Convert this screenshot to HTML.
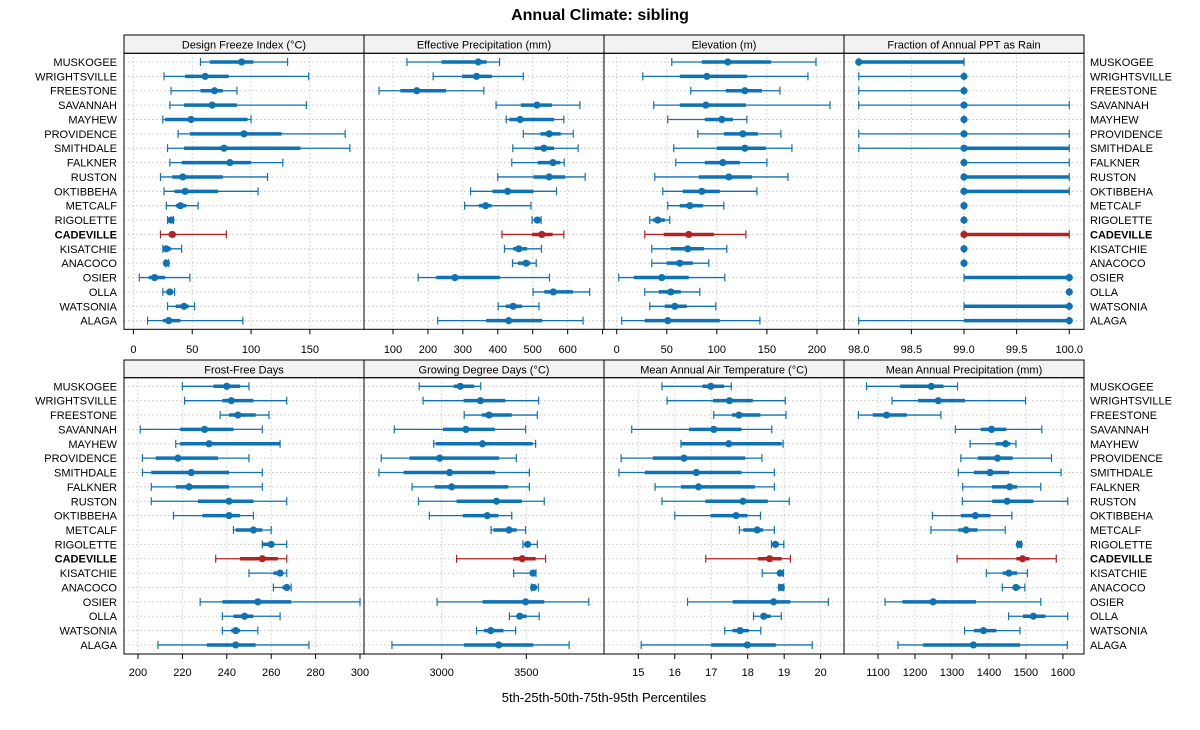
<!DOCTYPE html>
<html><head><meta charset="utf-8"><style>
body{margin:0;background:#fff;}
svg text{font-family:"Liberation Sans",sans-serif;}
</style></head><body>
<svg id="chart" width="1200" height="725" xmlns="http://www.w3.org/2000/svg">
<text x="600" y="20" text-anchor="middle" font-size="16" font-weight="bold">Annual Climate: sibling</text>
<text x="604" y="702" text-anchor="middle" font-size="13">5th-25th-50th-75th-95th Percentiles</text>
</svg>
<script>
const sites = ["MUSKOGEE","WRIGHTSVILLE","FREESTONE","SAVANNAH","MAYHEW","PROVIDENCE","SMITHDALE","FALKNER","RUSTON","OKTIBBEHA","METCALF","RIGOLETTE","CADEVILLE","KISATCHIE","ANACOCO","OSIER","OLLA","WATSONIA","ALAGA"];
const highlight = "CADEVILLE";
const panelTitles = ["Design Freeze Index (°C)","Effective Precipitation (mm)","Elevation (m)","Fraction of Annual PPT as Rain","Frost-Free Days","Growing Degree Days (°C)","Mean Annual Air Temperature (°C)","Mean Annual Precipitation (mm)"];
const freezeIndex = [[57,65,92,102,131],[26,44,61,81,149],[32,57,69,76,88],[31,43,67,88,147],[25,27,49,97,100],[38,48,94,126,180],[29,43,77,142,184],[31,41,82,100,127],[23,33,42,76,114],[26,35,44,72,106],[28,36,40,45,55],[29,30,32,34,34],[23,30,33,36,79],[25,26,28,32,41],[27,27,28,29,30],[5,13,18,27,48],[25,28,31,33,35],[29,36,43,47,52],[12,25,30,40,93]];
const effPrecip = [[140,239,344,368,405],[215,298,339,383,473],[60,121,168,252,360],[395,466,512,555,635],[424,433,464,561,589],[473,522,547,580,616],[443,505,532,561,630],[440,514,558,579,590],[400,502,547,593,650],[322,385,428,502,568],[305,346,365,382,495],[498,504,513,520,524],[412,498,526,557,589],[419,444,460,484,525],[442,458,481,493,510],[172,224,277,406,548],[501,533,559,615,663],[401,423,444,469,518],[228,367,431,527,644]];
const elevation = [[55,85,111,154,199],[26,63,90,130,191],[74,109,128,145,163],[37,63,89,129,213],[51,88,105,116,130],[81,107,126,141,164],[57,100,128,149,175],[59,88,106,123,150],[38,82,112,135,171],[46,66,85,103,140],[51,63,73,86,107],[33,36,41,48,53],[28,47,72,97,129],[35,54,71,87,110],[35,50,63,76,92],[2,17,45,72,108],[28,42,54,64,83],[33,48,58,70,99],[5,28,51,103,143]];
const rainFraction = [[98,98,98,99,99],[98,99,99,99,99],[98,99,99,99,99],[98,99,99,99,100],[99,99,99,99,99],[98,99,99,99,100],[98,99,99,100,100],[99,99,99,99,100],[99,99,99,100,100],[99,99,99,100,100],[99,99,99,99,99],[99,99,99,99,99],[99,99,99,100,100],[99,99,99,99,99],[99,99,99,99,99],[99,99,100,100,100],[100,100,100,100,100],[99,99,100,100,100],[98,99,100,100,100]];
const frostFree = [[220,234,240,246,250],[221,238,242,252,267],[237,241,245,253,259],[201,219,230,243,256],[217,219,232,264,264],[202,208,218,236,250],[202,206,224,241,256],[206,217,223,241,256],[206,227,241,252,267],[216,229,241,246,252],[243,244,252,256,260],[256,256,260,261,267],[235,246,256,263,267],[250,261,264,265,267],[261,265,267,268,269],[228,238,254,269,300],[238,243,248,252,264],[238,242,244,246,254],[209,231,244,253,277]];
const gdd = [[2867,3071,3110,3192,3231],[2890,3129,3229,3375,3573],[3133,3237,3280,3414,3565],[2720,3008,3143,3314,3496],[2953,2965,3241,3537,3555],[2643,2810,2988,3339,3441],[2629,2775,3047,3316,3518],[2825,2959,3059,3394,3518],[2863,3088,3324,3473,3606],[2927,3125,3269,3335,3414],[3292,3306,3398,3443,3496],[3480,3488,3508,3527,3565],[3088,3422,3476,3555,3614],[3425,3529,3539,3547,3557],[3529,3535,3543,3557,3571],[2973,3241,3496,3606,3869],[3400,3447,3461,3502,3576],[3206,3249,3290,3365,3437],[2706,3131,3337,3541,3753]];
const maat = [[15.65,16.76,16.99,17.35,17.55],[15.79,17.05,17.5,18.14,19.03],[17.07,17.57,17.76,18.35,19.05],[14.82,16.39,17.07,17.83,18.66],[16.17,16.19,17.48,18.93,18.97],[14.53,15.4,16.25,17.93,18.39],[14.47,15.18,16.59,17.83,18.73],[15.46,16.17,16.65,18.2,18.73],[15.65,16.84,17.87,18.55,19.14],[16.0,16.98,17.68,17.99,18.35],[17.77,17.88,18.26,18.42,18.73],[18.65,18.68,18.76,18.85,18.99],[16.85,18.28,18.6,18.93,19.17],[18.4,18.84,18.89,18.94,18.98],[18.85,18.88,18.92,18.96,18.99],[16.35,17.59,18.71,19.17,20.21],[18.16,18.35,18.44,18.63,18.92],[17.37,17.58,17.79,18.03,18.36],[15.08,17.0,17.99,18.77,19.77]];
const map = [[1069,1160,1244,1277,1315],[1138,1208,1263,1335,1499],[1047,1086,1123,1178,1270],[1309,1378,1407,1447,1543],[1349,1418,1445,1458,1473],[1324,1370,1423,1464,1569],[1317,1359,1403,1455,1595],[1329,1408,1456,1476,1540],[1328,1409,1449,1520,1613],[1247,1324,1363,1404,1462],[1243,1317,1338,1369,1444],[1477,1480,1482,1485,1488],[1314,1474,1491,1509,1582],[1393,1437,1454,1476,1504],[1436,1464,1473,1485,1497],[1119,1166,1249,1365,1540],[1453,1492,1520,1553,1613],[1334,1359,1385,1420,1484],[1154,1222,1358,1484,1612]];
const panelData = [freezeIndex, effPrecip, elevation, rainFraction, frostFree, gdd, maat, map];
const domains = [[-8,196],[17,704],[-12.7,227],[97.86,100.14],[193.7,301.8],[2541,3959],[14.06,20.64],[1008,1657]];
const ticks = [[0,50,100,150],[100,200,300,400,500,600,700],[0,50,100,150,200],[98,98.5,99,99.5,100],[200,220,240,260,280,300],[3000,3500],[15,16,17,18,19,20],[1100,1200,1300,1400,1500,1600]];
const tickLabels = [["0","50","100","150"],["100","200","300","400","500","600",""],["0","50","100","150","200"],["98.0","98.5","99.0","99.5","100.0"],["200","220","240","260","280","300"],["3000","3500"],["15","16","17","18","19","20"],["1100","1200","1300","1400","1500","1600"]];

const svg = document.getElementById('chart');
const NS = "http://www.w3.org/2000/svg";
function mk(tag, attrs, parent){const e=document.createElementNS(NS,tag);for(const k in attrs)e.setAttribute(k,attrs[k]);(parent||svg).appendChild(e);return e;}
const BLUE="#0f72b2", RED="#b22222";
const PX0=124, PW=240;
const rows=[{strip:35,top:53.3,bot:329.3,y0:62,tickY:349},{strip:360,top:377.7,bot:654,y0:386.3,tickY:672}];
const dy=14.37;

for(let r=0;r<2;r++){
  const R=rows[r];
  // site labels left/right
  sites.forEach((s,i)=>{
    const y=R.y0+i*dy;
    const t1=mk('text',{x:117,y:y+4,'text-anchor':'end','font-size':11,'font-weight':s===highlight?'bold':'normal'});
    t1.textContent=s;
    
    
    const t2=mk('text',{x:1090,y:y+4,'font-size':11,'font-weight':s===highlight?'bold':'normal'});
    t2.textContent=s;
    
    
  });
  for(let c=0;c<4;c++){
    const p=r*4+c;
    const x0=PX0+c*PW, x1=x0+PW;
    const g=mk('g',{});
    
    
    const [d0,d1]=domains[p];
    const sx=v=>x0+(v-d0)/(d1-d0)*PW;
    // strip
    const st=mk('rect',{x:x0,y:R.strip,width:PW,height:R.top-R.strip,fill:'#f2f2f2',stroke:'#000','stroke-width':1},g);
    
    
    const stt=mk('text',{x:x0+PW/2,y:R.strip+13.5,'text-anchor':'middle','font-size':11},g);
    stt.textContent=panelTitles[p];
    
    
    // grid
    ticks[p].forEach(v=>{
      const x=sx(v);
      if(x>x0+1&&x<x1-1){
        const gl=mk('line',{x1:x,x2:x,y1:R.top,y2:R.bot,stroke:'#c8c8c8','stroke-dasharray':'1.5,2.5','stroke-width':1},g);
        
        
      }
    });
    sites.forEach((s,i)=>{
      const y=R.y0+i*dy;
      const hl=mk('line',{x1:x0,x2:x1,y1:y,y2:y,stroke:'#c8c8c8','stroke-dasharray':'1.5,2.5','stroke-width':1},g);
      
      
    });
    // marks
    panelData[p].forEach((q,i)=>{
      const y=R.y0+i*dy;
      const col=sites[i]===highlight?RED:BLUE;
      const m=mk('g',{},g);
      
      
      const a=sx(q[0]),b=sx(q[1]),md=sx(q[2]),d=sx(q[3]),e=sx(q[4]);
      mk('line',{x1:a,x2:e,y1:y,y2:y,stroke:col,'stroke-width':1.3},m);
      mk('line',{x1:a,x2:a,y1:y-4,y2:y+4,stroke:col,'stroke-width':1.2},m);
      mk('line',{x1:e,x2:e,y1:y-4,y2:y+4,stroke:col,'stroke-width':1.2},m);
      mk('line',{x1:b,x2:d,y1:y,y2:y,stroke:col,'stroke-width':3.5},m);
      mk('circle',{cx:md,cy:y,r:3.6,fill:col},m);
    });
    // frame
    const fr=mk('rect',{x:x0,y:R.top,width:PW,height:R.bot-R.top,fill:'none',stroke:'#000','stroke-width':1},g);
    
    
    // ticks
    ticks[p].forEach((v,k)=>{
      const x=sx(v);
      const tk=mk('line',{x1:x,x2:x,y1:R.bot,y2:R.bot+5,stroke:'#000','stroke-width':1},g);
      
      
      if(tickLabels[p][k]){
        const tl=mk('text',{x:x,y:R.tickY+4,'text-anchor':'middle','font-size':11},g);
        tl.textContent=tickLabels[p][k];
        
        
      }
    });
  }
}
</script>
</body></html>
